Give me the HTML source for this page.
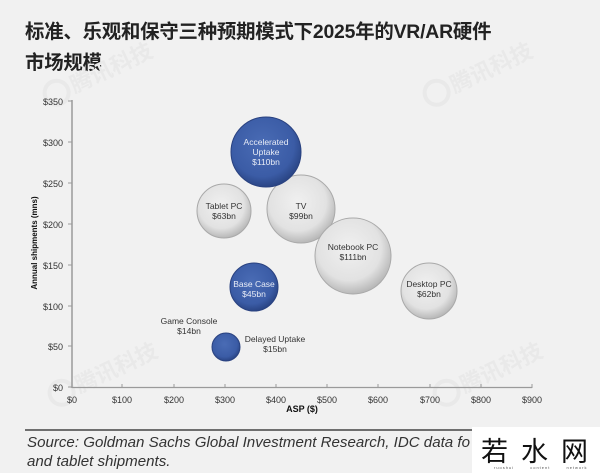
<!DOCTYPE html>
<html><head><meta charset="utf-8">
<style>
html,body{margin:0;padding:0;}
body{width:600px;height:473px;background:#f1f1f1;overflow:hidden;position:relative;font-family:"Liberation Sans","Noto Sans CJK SC",sans-serif;}
.title{position:absolute;left:25px;top:17px;font-size:19.4px;font-weight:bold;color:#222;line-height:31px;font-family:"Liberation Sans","Noto Sans CJK SC",sans-serif;letter-spacing:-0.2px;}
.src{position:absolute;left:27px;top:433px;font-size:15.1px;font-style:italic;color:#333;line-height:19px;white-space:nowrap;}
.logo{position:absolute;left:472px;top:427px;width:128px;height:46px;background:#fff;}
.logo .big{position:absolute;left:9px;top:3px;font-size:27px;font-family:"Noto Sans CJK SC",sans-serif;color:#111;letter-spacing:13px;white-space:nowrap;}
.logo .small{position:absolute;left:22px;top:38px;font-size:4px;color:#555;letter-spacing:1px;word-spacing:14px;}
</style></head><body>
<div class="title">标准、乐观和保守三种预期模式下2025年的VR/AR硬件<br>市场规模</div>
<svg width="600" height="473" style="position:absolute;left:0;top:0" xmlns="http://www.w3.org/2000/svg">
<defs>
<radialGradient id="g" cx="45%" cy="40%" r="60%">
<stop offset="0%" stop-color="#f0f0f0"/>
<stop offset="70%" stop-color="#e2e2e2"/>
<stop offset="100%" stop-color="#b8b8b8"/>
</radialGradient>
<radialGradient id="b" cx="45%" cy="40%" r="60%">
<stop offset="0%" stop-color="#4a6cb5"/>
<stop offset="75%" stop-color="#3b5ca6"/>
<stop offset="100%" stop-color="#2a4585"/>
</radialGradient>
</defs>
<!-- watermarks -->
<g fill="#e9e9e9" font-family="Noto Sans CJK SC,sans-serif" font-size="22" font-weight="bold">
<g transform="translate(60,100) rotate(-25)"><circle cx="0" cy="-8" r="12" fill="none" stroke="#e9e9e9" stroke-width="4"/><text x="16" y="0">腾讯科技</text></g>
<g transform="translate(440,100) rotate(-25)"><circle cx="0" cy="-8" r="12" fill="none" stroke="#e9e9e9" stroke-width="4"/><text x="16" y="0">腾讯科技</text></g>
<g transform="translate(65,400) rotate(-25)"><circle cx="0" cy="-8" r="12" fill="none" stroke="#e9e9e9" stroke-width="4"/><text x="16" y="0">腾讯科技</text></g>
<g transform="translate(450,400) rotate(-25)"><circle cx="0" cy="-8" r="12" fill="none" stroke="#e9e9e9" stroke-width="4"/><text x="16" y="0">腾讯科技</text></g>
</g>
<!-- axes -->
<line x1="72" y1="100" x2="72" y2="388" stroke="#9a9a9a" stroke-width="1.5"/>
<line x1="72" y1="387.5" x2="532" y2="387.5" stroke="#9a9a9a" stroke-width="1.2"/>
<g stroke="#9a9a9a" stroke-width="1">
<line x1="68" y1="101" x2="72" y2="101"/><line x1="68" y1="142" x2="72" y2="142"/><line x1="68" y1="183" x2="72" y2="183"/><line x1="68" y1="224" x2="72" y2="224"/><line x1="68" y1="265" x2="72" y2="265"/><line x1="68" y1="306" x2="72" y2="306"/><line x1="68" y1="346" x2="72" y2="346"/><line x1="68" y1="387" x2="72" y2="387"/>
<line x1="122" y1="384" x2="122" y2="388"/><line x1="174" y1="384" x2="174" y2="388"/><line x1="225" y1="384" x2="225" y2="388"/><line x1="276" y1="384" x2="276" y2="388"/><line x1="327" y1="384" x2="327" y2="388"/><line x1="378" y1="384" x2="378" y2="388"/><line x1="430" y1="384" x2="430" y2="388"/><line x1="481" y1="384" x2="481" y2="388"/><line x1="532" y1="384" x2="532" y2="388"/>
</g>
<g font-family="Liberation Sans,sans-serif" font-size="9" fill="#333" text-anchor="end">
<text x="63" y="105">$350</text><text x="63" y="146">$300</text><text x="63" y="187">$250</text><text x="63" y="228">$200</text><text x="63" y="269">$150</text><text x="63" y="310">$100</text><text x="63" y="350">$50</text><text x="63" y="391">$0</text>
</g>
<g font-family="Liberation Sans,sans-serif" font-size="9" fill="#333" text-anchor="middle">
<text x="72" y="403">$0</text><text x="122" y="403">$100</text><text x="174" y="403">$200</text><text x="225" y="403">$300</text><text x="276" y="403">$400</text><text x="327" y="403">$500</text><text x="378" y="403">$600</text><text x="430" y="403">$700</text><text x="481" y="403">$800</text><text x="532" y="403">$900</text>
</g>
<text x="302" y="412" font-family="Liberation Sans,sans-serif" font-size="9" font-weight="bold" fill="#111" text-anchor="middle">ASP ($)</text>
<text transform="translate(37,243) rotate(-90)" font-family="Liberation Sans,sans-serif" font-size="8" font-weight="bold" fill="#111" text-anchor="middle">Annual shipments (mns)</text>
<!-- bubbles -->
<g stroke="#a9a9a9" stroke-width="1">
<circle cx="224" cy="211" r="27" fill="url(#g)"/>
<circle cx="301" cy="209" r="34" fill="url(#g)"/>
<circle cx="353" cy="256" r="38" fill="url(#g)"/>
<circle cx="429" cy="291" r="28" fill="url(#g)"/>
</g>
<g stroke="#2a4280" stroke-width="1">
<circle cx="266" cy="152" r="35" fill="url(#b)"/>
<circle cx="254" cy="287" r="24" fill="url(#b)"/>
<circle cx="226" cy="347" r="14" fill="url(#b)"/>
</g>
<g font-family="Liberation Sans,sans-serif" font-size="8.5" text-anchor="middle" fill="#333">
<text x="266" y="145" fill="#e8ecf6">Accelerated</text><text x="266" y="155" fill="#e8ecf6">Uptake</text><text x="266" y="165" fill="#e8ecf6">$110bn</text>
<text x="224" y="209">Tablet PC</text><text x="224" y="219">$63bn</text>
<text x="301" y="209">TV</text><text x="301" y="219">$99bn</text>
<text x="353" y="250">Notebook PC</text><text x="353" y="260">$111bn</text>
<text x="429" y="287">Desktop PC</text><text x="429" y="297">$62bn</text>
<text x="254" y="287" fill="#e8ecf6">Base Case</text><text x="254" y="297" fill="#e8ecf6">$45bn</text>
<text x="189" y="324">Game Console</text><text x="189" y="334">$14bn</text>
<text x="275" y="342">Delayed Uptake</text><text x="275" y="352">$15bn</text>
</g>
<line x1="25" y1="430" x2="472" y2="430" stroke="#222" stroke-width="1.2"/>
</svg>
<div class="src">Source: Goldman Sachs Global Investment Research, IDC data fo<br>and tablet shipments.</div>
<div class="logo"><div class="big">若水网</div><div class="small">ruoshui content network</div></div>
</body></html>
